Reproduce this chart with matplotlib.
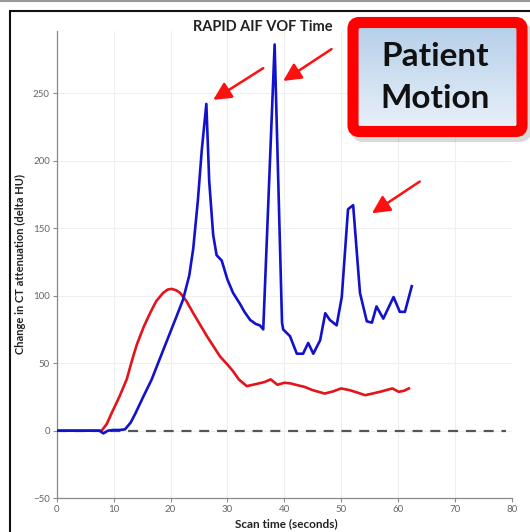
import numpy as np
import matplotlib
matplotlib.use("Agg")
import matplotlib.pyplot as plt
from matplotlib.patches import FancyBboxPatch, Rectangle
from matplotlib.colors import LinearSegmentedColormap

plt.rcParams['font.family'] = ['Lato', 'DejaVu Sans']

# AIF (red) curve
aif_t = [0, 2, 4, 6, 7.9, 8.8, 9.6, 11, 12.3, 13.3, 14.1, 15.3, 16.4, 17.5, 18.7, 19.5, 20.2,
         21, 21.7, 22.8, 24, 26.4, 28.7, 30, 31, 32, 33.4, 35, 36.5, 37.6, 38.8, 40, 41.1,
         42, 43.5, 45, 47.1, 48.5, 50, 51.5, 53, 54.2, 55.5, 57, 59, 60.1, 61, 61.9]
aif_hu = [0, 0, 0, 0, 0, 5, 12.5, 25, 38, 53, 64, 77, 87, 96, 102, 104.5, 105,
          104, 102, 96, 87, 70, 55, 49, 44, 38, 33, 34.5, 36, 38, 34, 35.5, 35,
          34, 32.5, 30, 27.5, 29, 31.3, 30, 28, 26.3, 27.5, 29, 31.3, 28.8, 29.5, 31.3]

# VOF (blue) curve
vof_t = [0, 2, 4, 6, 7.5, 8.2, 9, 10, 11, 12, 13, 13.8, 15.2, 16.7, 18, 19.5, 21, 22.2,
         23.3, 24, 24.8, 25.5, 26.3, 26.8, 27.5, 28.1, 29, 30, 31, 32.2, 33, 34, 35,
         35.7, 36.3, 38.3, 39.6, 39.8, 41, 42.2, 43.3, 44.2, 45.1, 46.3, 47.2, 48,
         49.2, 50.1, 51.2, 52.1, 53.3, 54.5, 55.4, 56.2, 57.4, 59.2, 60.3, 61.2, 62.4]
vof_hu = [0, 0, 0, 0, 0, -2, 0, 0.5, 0.5, 1, 6, 12.5, 25, 38, 52, 68, 84, 97,
          115, 135, 170, 208, 242, 185, 145, 130, 126, 112, 102, 94, 88, 82, 79,
          78, 75, 286, 80, 75, 70, 57, 57, 65, 57, 67, 87, 82,
          78, 99, 164, 167, 102, 81, 80, 92, 83, 99, 88, 88, 107]

baseline_t = [0, 79]
baseline_hu = [0, 0]

# arrows: (tip time, tip HU, tail time, tail HU)
arrows = [(27.5, 245, 36.3, 268.5),
          (39.8, 259, 48.3, 282.6),
          (55.4, 161, 63.8, 184.5)]

W, H = 530, 532
fig = plt.figure(figsize=(W / 100, H / 100), dpi=100)

ax = fig.add_axes([56.7 / W, 1 - 498.2 / H, (511.9 - 56.7) / W, (498.2 - 31) / H], zorder=0)
ax.set_xlim(0, 80)
ax.set_ylim(-50, 296)
ax.set_xticks(range(0, 81, 10))
ax.set_yticks(range(-50, 251, 50))
ax.grid(True, color='#efefef', linewidth=0.8)
ax.set_axisbelow(True)
for s in ['top', 'right']:
  ax.spines[s].set_visible(False)
for s in ['left', 'bottom']:
  ax.spines[s].set_color('#8a8a8a')
  ax.spines[s].set_linewidth(0.9)
ax.tick_params(length=3, width=0.8, color='#8a8a8a', labelsize=7, labelcolor='#666666', pad=2)

ax.plot(baseline_t, baseline_hu, color='#555555', linewidth=1.6, dashes=(4.5, 3.5), zorder=2)
ax.plot(aif_t, aif_hu, color='#e3141b', linewidth=1.9, zorder=3)
ax.plot(vof_t, vof_hu, color='#1212cc', linewidth=1.9, zorder=4)

for tx, ty, sx, sy in arrows:
  ax.annotate('', xy=(tx, ty), xytext=(sx, sy), annotation_clip=False,
              arrowprops=dict(arrowstyle='-|>,head_length=0.6,head_width=0.3',
                              color='#ff1010', lw=1.8,
                              mutation_scale=18, shrinkA=0, shrinkB=0))

# labels
fig.text(193 / W, 1 - 30.7 / H, 'RAPID AIF VOF Time', ha='left', va='baseline',
         fontsize=10.5, fontweight='bold', color='#222222')
fig.text(20 / W, 1 - 263.5 / H, 'Change in CT attenuation (delta HU)', rotation=90,
         ha='center', va='center', fontsize=8, fontweight='bold', color='#222222')
fig.text(286 / W, 1 - 523.7 / H, 'Scan time (seconds)', ha='center', va='center',
         fontsize=8.5, fontweight='bold', color='#222222')

# outer frame
fig.add_artist(Rectangle((10 / W, -0.1), 1.2, 1.1 - 11 / H, transform=fig.transFigure,
                         fill=False, edgecolor='#111111', linewidth=1.5, zorder=1))
fig.add_artist(plt.Line2D([0, 1], [1 - 1 / H, 1 - 1 / H], transform=fig.transFigure,
                          color='#999999', linewidth=1.5, zorder=1))

# Patient Motion callout
x0, x1 = 353 / W, 522 / W
y0, y1 = 1 - 131.5 / H, 1 - 22.5 / H
fig.add_artist(FancyBboxPatch((x0 + 4 / W, y0 - 5 / H), x1 - x0, y1 - y0,
                              boxstyle='round,pad=0,rounding_size=0.012',
                              transform=fig.transFigure, facecolor='#000000',
                              edgecolor='#000000', linewidth=8, alpha=0.15, zorder=2))
bx = fig.add_axes([x0, y0, x1 - x0, y1 - y0], zorder=3)
cmap = LinearSegmentedColormap.from_list('box', ['#eaf1f9', '#b3cee9'])
bx.imshow(np.linspace(0, 1, 100).reshape(-1, 1), aspect='auto', cmap=cmap, origin='lower')
bx.axis('off')
fig.add_artist(FancyBboxPatch((x0, y0), x1 - x0, y1 - y0,
                              boxstyle='round,pad=0,rounding_size=0.012',
                              transform=fig.transFigure, facecolor='none',
                              edgecolor='#ff0000', linewidth=8, zorder=4))
fig.text(435 / W, 1 - 56 / H, 'Patient', ha='center', va='center', fontsize=24,
         fontweight='bold', color='#111111', zorder=5)
fig.text(435 / W, 1 - 98 / H, 'Motion', ha='center', va='center', fontsize=24,
         fontweight='bold', color='#111111', zorder=5)

fig.savefig('out.png', dpi=100)
